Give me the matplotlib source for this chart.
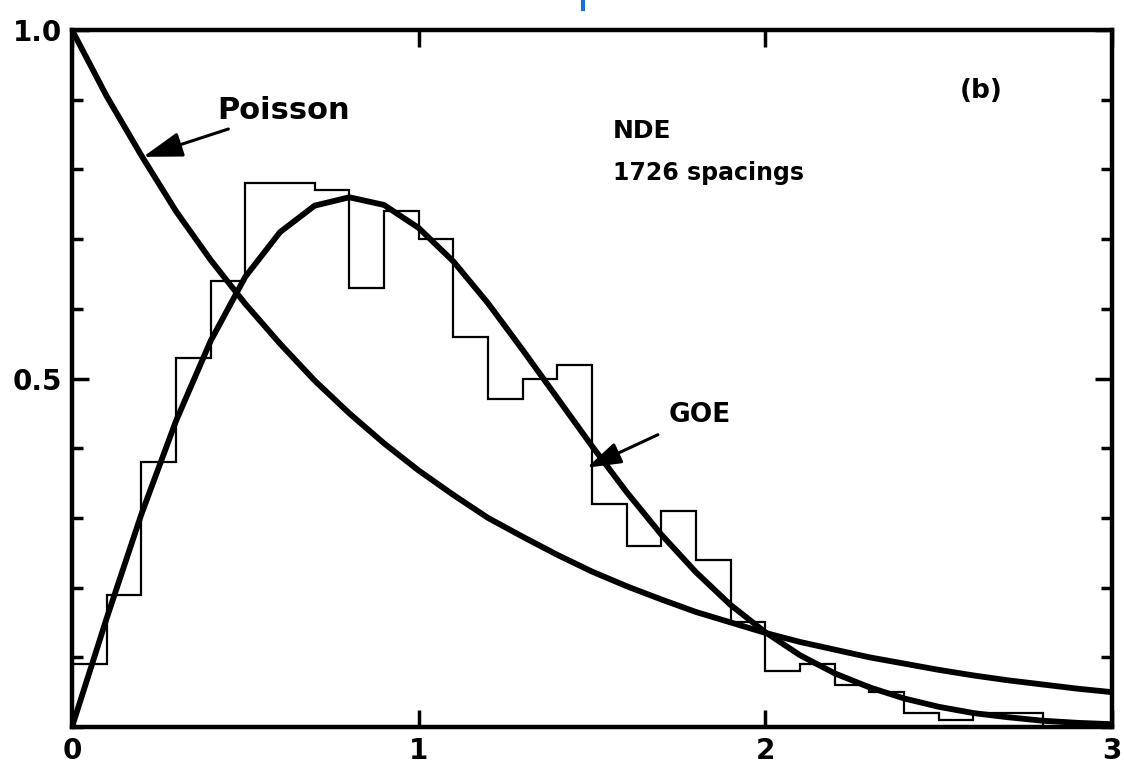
import matplotlib
matplotlib.use("Agg")
import matplotlib.pyplot as plt
import numpy as np
from matplotlib.lines import Line2D

# level spacing s (units of mean spacing) and curve values
s_grid = [0.0, 0.1, 0.2, 0.3, 0.4, 0.5, 0.6, 0.7, 0.8, 0.9, 1.0,
          1.1, 1.2, 1.3, 1.4, 1.5, 1.6, 1.7, 1.8, 1.9, 2.0,
          2.1, 2.2, 2.3, 2.4, 2.5, 2.6, 2.7, 2.8, 2.9, 3.0]
poisson = [1.00, 0.905, 0.82, 0.74, 0.67, 0.607, 0.55, 0.497, 0.45, 0.407, 0.368,
           0.333, 0.30, 0.273, 0.247, 0.223, 0.202, 0.183, 0.165, 0.15, 0.135,
           0.122, 0.111, 0.10, 0.091, 0.082, 0.074, 0.067, 0.061, 0.055, 0.05]
goe = [0.0, 0.156, 0.305, 0.439, 0.554, 0.646, 0.71, 0.748, 0.76, 0.749, 0.716,
       0.668, 0.608, 0.541, 0.472, 0.403, 0.337, 0.276, 0.222, 0.175, 0.136,
       0.103, 0.077, 0.057, 0.041, 0.029, 0.02, 0.014, 0.009, 0.006, 0.004]

# NDE histogram, 1726 spacings, bins of 0.1
bin_edges = np.linspace(0, 3, 31)
nde_hist = [0.09, 0.19, 0.38, 0.53, 0.64, 0.78, 0.78, 0.77, 0.63, 0.74,
            0.70, 0.56, 0.47, 0.50, 0.52, 0.32, 0.26, 0.31, 0.24, 0.15,
            0.08, 0.09, 0.06, 0.05, 0.02, 0.01, 0.02, 0.02, 0.0, 0.0]

W, H = 1124, 781
fig = plt.figure(figsize=(W / 100, H / 100), dpi=100)
ax = fig.add_axes([72 / W, 1 - 727 / H, (1112 - 72) / W, (727 - 30) / H])

ax.stairs(nde_hist, bin_edges, color="black", lw=1.6)
ax.plot(s_grid, poisson, color="black", lw=4.2, solid_joinstyle="round")
ax.plot(s_grid, goe, color="black", lw=4.2, solid_joinstyle="round")

ax.set_xlim(0, 3)
ax.set_ylim(0, 1)
for sp in ax.spines.values():
    sp.set_linewidth(3.2)

ax.set_xticks([0, 1, 2, 3])
ax.set_xticklabels(["0", "1", "2", "3"])
ax.set_yticks([0.5, 1.0])
ax.set_yticklabels(["0.5", "1.0"])
ax.set_yticks(np.linspace(0, 1, 11), minor=True)
ax.tick_params(which="both", direction="in", top=True, right=True, width=2.5)
ax.tick_params(which="major", length=12, labelsize=20, pad=7)
ax.tick_params(which="minor", length=8)
ax.tick_params(axis="x", which="minor", length=0)
for lab in ax.get_xticklabels() + ax.get_yticklabels():
    lab.set_fontweight("bold")

txt = dict(fontweight="bold", color="black")
head = "-|>,head_length=1.1,head_width=0.35"
ax.annotate("Poisson", xy=(0.205, 0.818), xytext=(0.42, 0.884), va="center",
            fontsize=22,
            arrowprops=dict(arrowstyle=head, lw=2.2, color="black",
                            shrinkA=2, shrinkB=0), **txt)
ax.annotate("GOE", xy=(1.485, 0.372), xytext=(1.72, 0.447), va="center",
            fontsize=19,
            arrowprops=dict(arrowstyle=head, lw=2.2, color="black",
                            shrinkA=6, shrinkB=0), **txt)
ax.text(1.56, 0.855, "NDE", va="center", fontsize=18, **txt)
ax.text(1.56, 0.795, "1726 spacings", va="center", fontsize=17, **txt)
ax.text(2.56, 0.912, "(b)", va="center", fontsize=19, **txt)

# cut-off blue mark at the top edge
fig.add_artist(Line2D([583 / W, 583 / W], [1 - 9 / H, 1.0], color="#1b6fd3", lw=3))

fig.savefig("out.png", dpi=100)
